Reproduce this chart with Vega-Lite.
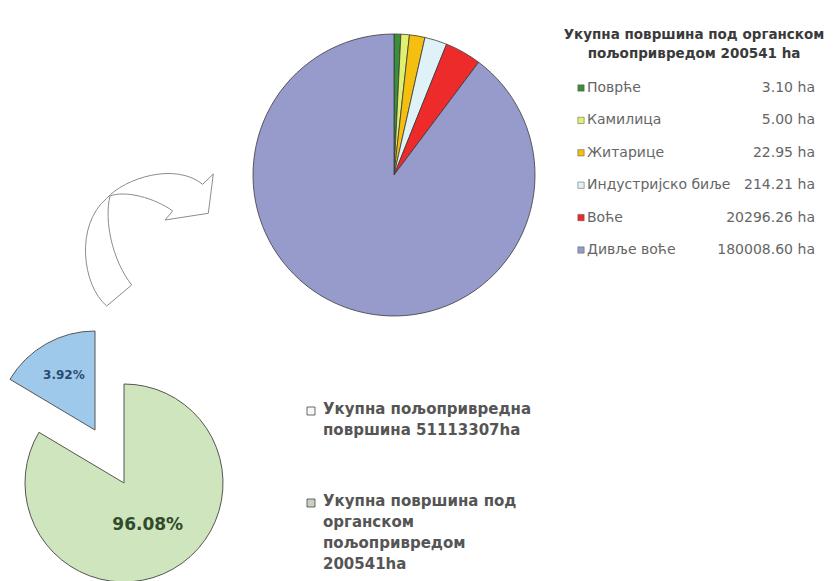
{
  "$schema": "https://vega.github.io/schema/vega-lite/v6.json",
  "padding": 0,
  "background": "white",
  "autosize": {"type": "pad"},
  "config": {"view": {"stroke": null}, "concat": {"spacing": 0}, "font": "DejaVu Sans"},
  "datasets": {
    "organic": [
      {"k": 1, "name": "Поврће", "ha": 3.10, "deg": 2.8},
      {"k": 2, "name": "Камилица", "ha": 5.00, "deg": 3.5},
      {"k": 3, "name": "Житарице", "ha": 22.95, "deg": 6.4},
      {"k": 4, "name": "Индустријско биље", "ha": 214.21, "deg": 9.2},
      {"k": 5, "name": "Воће", "ha": 20296.26, "deg": 15.0},
      {"k": 6, "name": "Дивље воће", "ha": 180008.60, "deg": 323.1}
    ],
    "share": [
      {"k": 1, "part": "Укупна пољопривредна\nповршина 51113307ha", "share": 0.9608, "deg": 300.8},
      {"k": 2, "part": "Укупна површина  под\nорганском\nпољопривредом\n200541ha", "share": 0.0392, "deg": 59.2}
    ],
    "arrow": [{"item": "arrow"}]
  },
  "hconcat": [
    {
      "vconcat": [
        {
          "width": 248,
          "height": 385,
          "data": {"name": "arrow"},
          "mark": {
            "type": "point",
            "shape": "M -17.3 113.5 C -42 92.5 -49 32.5 -17.3 5.8 C 1 -14.5 51 -30.5 78.7 -8.2 L 89.3 -18.5 L 84.3 20.8 L 41 27.5 L 48.7 18.5 C 31 5.5 1 -2.5 -14 3.5 C -20 27.5 -12 67.5 7.7 92.5 Z",
            "size": 4,
            "filled": true,
            "fill": "white",
            "stroke": "#8c8c8c",
            "strokeWidth": 1,
            "opacity": 1
          },
          "encoding": {}
        },
        {
          "width": 248,
          "height": 196,
          "data": {"name": "share"},
          "transform": [
            {"stack": "deg", "groupby": [], "sort": [{"field": "k", "order": "ascending"}], "as": ["t0", "t1"]}
          ],
          "layer": [
            {
              "transform": [{"filter": "datum.k === 1"}],
              "mark": {"type": "arc", "outerRadius": 99, "stroke": "#555555", "strokeWidth": 1},
              "encoding": {
                "theta": {"field": "t0", "type": "quantitative", "scale": {"domain": [0, 360]}},
                "theta2": {"field": "t1"},
                "color": {"field": "part", "type": "nominal", "sort": null, "scale": {"domain": ["Укупна пољопривредна\nповршина 51113307ha", "Укупна површина  под\nорганском\nпољопривредом\n200541ha"], "range": ["#cfe5bd", "#9fc9ea"]}, "legend": null}
              }
            },
            {
              "transform": [{"filter": "datum.k === 2"}],
              "mark": {"type": "arc", "outerRadius": 99, "stroke": "#555555", "strokeWidth": 1, "xOffset": -29, "yOffset": -53},
              "encoding": {
                "theta": {"field": "t0", "type": "quantitative"},
                "theta2": {"field": "t1"},
                "color": {"field": "part", "type": "nominal", "sort": null, "legend": null}
              }
            },
            {
              "mark": {"type": "text", "radius": 48, "fontSize": 17, "fontWeight": "bold", "color": "#2f4b2c"},
              "encoding": {
                "theta": {"field": "deg", "type": "quantitative", "stack": true},
                "order": {"field": "k", "type": "quantitative"},
                "detail": {"field": "k", "type": "nominal"},
                "text": {"field": "share", "type": "quantitative", "format": ".2%"},
                "opacity": {"condition": {"test": "datum.k === 1", "value": 1}, "value": 0}
              }
            },
            {
              "mark": {"type": "text", "radius": 63, "fontSize": 12, "fontWeight": "bold", "color": "#2b4a72", "xOffset": -29, "yOffset": -53},
              "encoding": {
                "theta": {"field": "deg", "type": "quantitative", "stack": true},
                "order": {"field": "k", "type": "quantitative"},
                "detail": {"field": "k", "type": "nominal"},
                "text": {"field": "share", "type": "quantitative", "format": ".2%"},
                "opacity": {"condition": {"test": "datum.k === 2", "value": 1}, "value": 0}
              }
            }
          ]
        }
      ],
      "spacing": 0,
      "bounds": "flush",
      "resolve": {"scale": {"color": "independent", "fill": "independent"}}
    },
    {
      "vconcat": [
        {
          "hconcat": [
            {
              "width": 292,
              "height": 350,
              "data": {"name": "organic"},
              "mark": {"type": "arc", "outerRadius": 141, "stroke": "#3a3a3a", "strokeWidth": 0.8},
              "encoding": {
                "theta": {"field": "deg", "type": "quantitative", "stack": true},
                "order": {"field": "k", "type": "quantitative"},
                "color": {"field": "name", "type": "nominal", "sort": null, "scale": {"domain": ["Поврће", "Камилица", "Житарице", "Индустријско биље", "Воће", "Дивље воће"], "range": ["#3a8f3a", "#e0f070", "#f5bf10", "#dff2f7", "#ee2b2b", "#979bcc"]}, "legend": null}
              }
            },
            {
              "width": 298,
              "height": 350,
              "data": {"name": "organic"},
              "title": {
                "text": ["Укупна површина под органском", "пољопривредом 200541 ha"],
                "anchor": "middle",
                "offset": -60,
                "dx": 5,
                "font": "DejaVu Sans",
                "fontSize": 13.5,
                "fontWeight": "bold",
                "color": "#3a3a3a",
                "lineHeight": 19
              },
              "encoding": {
                "y": {"field": "name", "type": "nominal", "sort": null, "scale": {"type": "point", "domain": ["Поврће", "Камилица", "Житарице", "Индустријско биље", "Воће", "Дивље воће"], "range": [88, 250], "padding": 0}, "axis": null}
              },
              "layer": [
                {
                  "mark": {"type": "square", "size": 40, "filled": true, "opacity": 1, "stroke": "#555555", "strokeWidth": 0.5},
                  "encoding": {
                    "x": {"datum": "sw", "type": "nominal", "scale": {"type": "point", "domain": ["sw", "val"], "range": [41, 275], "padding": 0}, "axis": null},
                    "color": {"field": "name", "type": "nominal", "sort": null, "scale": {"domain": ["Поврће", "Камилица", "Житарице", "Индустријско биље", "Воће", "Дивље воће"], "range": ["#3a8f3a", "#e0f070", "#f5bf10", "#dff2f7", "#ee2b2b", "#979bcc"]}, "legend": null}
                  }
                },
                {
                  "mark": {"type": "text", "align": "left", "baseline": "middle", "dx": 6, "fontSize": 14, "color": "#666666"},
                  "encoding": {
                    "x": {"datum": "sw", "type": "nominal"},
                    "text": {"field": "name", "type": "nominal"}
                  }
                },
                {
                  "mark": {"type": "text", "align": "right", "baseline": "middle", "dx": -22, "fontSize": 14, "color": "#666666"},
                  "encoding": {
                    "x": {"datum": "val", "type": "nominal"},
                    "text": {"field": "ha", "type": "quantitative", "format": ".2f"}
                  }
                },
                {
                  "mark": {"type": "text", "align": "right", "baseline": "middle", "fontSize": 14, "color": "#666666"},
                  "encoding": {
                    "x": {"datum": "val", "type": "nominal"},
                    "text": {"value": "ha"}
                  }
                }
              ]
            }
          ],
          "spacing": 0,
          "bounds": "flush",
          "resolve": {"scale": {"color": "independent", "fill": "independent"}}
        },
        {
          "width": 590,
          "height": 231,
          "data": {"name": "share"},
          "encoding": {
            "y": {"field": "part", "type": "nominal", "sort": null, "scale": {"type": "point", "range": [61, 153], "padding": 0}, "axis": null}
          },
          "layer": [
            {
              "mark": {"type": "square", "size": 64, "filled": true, "opacity": 1, "stroke": "#444444", "strokeWidth": 0.8},
              "encoding": {
                "x": {"datum": "sw", "type": "nominal", "scale": {"type": "point", "domain": ["sw", "txt"], "range": [63, 75], "padding": 0}, "axis": null},
                "fill": {"field": "part", "type": "nominal", "sort": null, "scale": {"range": ["#f7f7f7", "#c8d2c0"]}, "legend": null}
              }
            },
            {
              "mark": {"type": "text", "align": "left", "baseline": "top", "dy": -9, "lineBreak": "\n", "lineHeight": 21, "fontSize": 15, "fontWeight": "bold", "color": "#555555"},
              "encoding": {
                "x": {"datum": "txt", "type": "nominal"},
                "text": {"field": "part", "type": "nominal"}
              }
            }
          ]
        }
      ],
      "spacing": 0,
      "bounds": "full",
      "resolve": {"scale": {"color": "independent", "fill": "independent"}}
    }
  ],
  "spacing": 0,
  "bounds": "full",
  "resolve": {"scale": {"color": "independent", "fill": "independent"}}
}
